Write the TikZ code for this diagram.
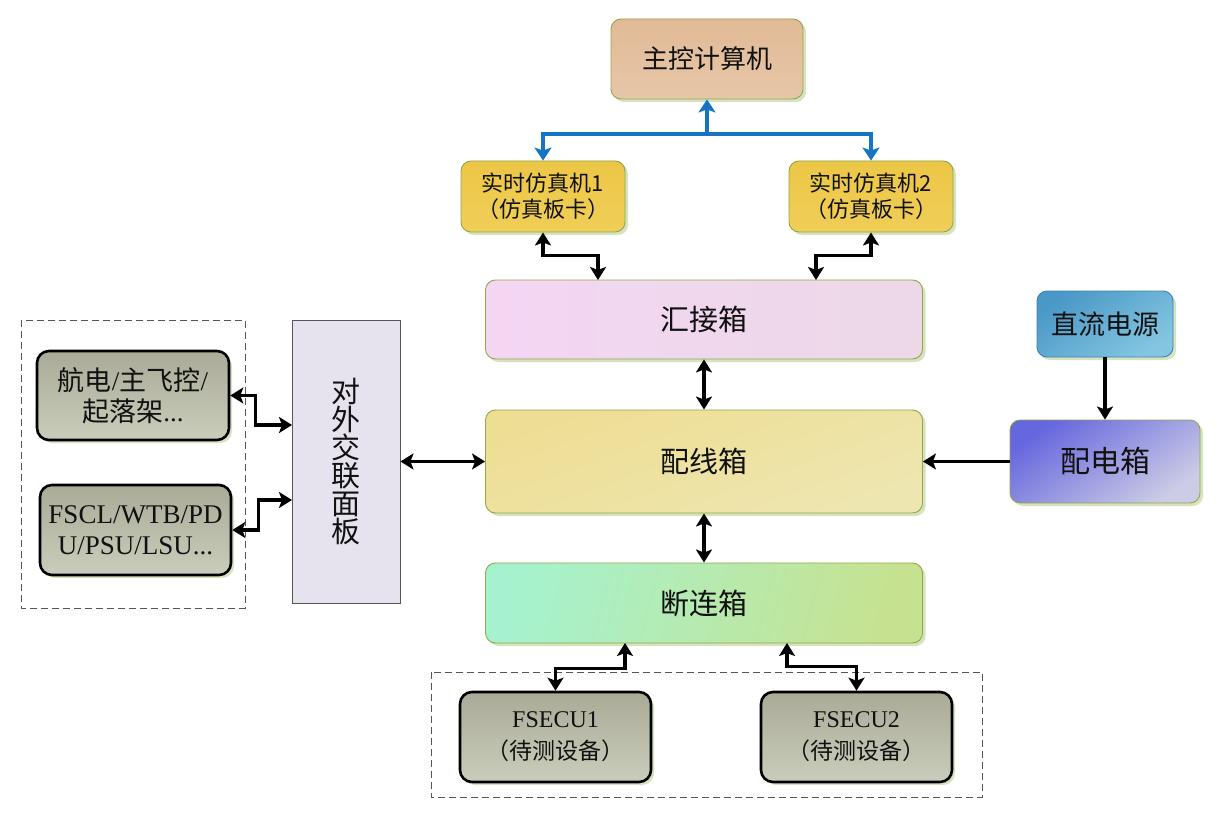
\documentclass[tikz,border=0pt]{standalone}
\usepackage{fontspec}
\setmainfont{Liberation Serif}
\newfontfamily\cjk{Noto Sans CJK SC}
\usetikzlibrary{arrows.meta,shadows}
\definecolor{bordergreen}{HTML}{8FA84A}
\definecolor{shadowgreen}{HTML}{D7E3BF}
\definecolor{txt}{HTML}{111111}
\definecolor{linkblue}{HTML}{1575C4}
\definecolor{dashgray}{HTML}{555555}
\definecolor{graytop}{HTML}{A9AB97}
\definecolor{graybot}{HTML}{CBCDBC}
\definecolor{mainT}{HTML}{E2BA96}
\definecolor{mainB}{HTML}{E6C6A8}
\definecolor{simT}{HTML}{ECC646}
\definecolor{simB}{HTML}{F0CE58}
\definecolor{hjL}{HTML}{F4D6F4}
\definecolor{hjR}{HTML}{ECD8E6}
\definecolor{pxT}{HTML}{EEDE94}
\definecolor{pxB}{HTML}{EEE6B0}
\definecolor{dlL}{HTML}{A6F2CE}
\definecolor{dlR}{HTML}{C6E290}
\definecolor{dcD}{HTML}{3A82B4}
\definecolor{dcT}{HTML}{4A98C6}
\definecolor{dcB}{HTML}{84C6E2}
\definecolor{pdT}{HTML}{6666DE}
\definecolor{pdB}{HTML}{CCCCE6}
\definecolor{panelD}{HTML}{555555}
\definecolor{panelF}{HTML}{E6E3EF}
\tikzset{
  base/.style={rounded corners=10pt, draw=bordergreen, line width=0.9pt, inner sep=0pt, align=center, text=txt,
    drop shadow={shadow xshift=3pt, shadow yshift=-3pt, fill=shadowgreen, opacity=1}},
  graybox/.style={rounded corners=12pt, draw=black, line width=2.6pt, inner sep=0pt, align=center, text=txt,
    top color=graytop, bottom color=graybot,
    drop shadow={shadow xshift=3pt, shadow yshift=-3pt, fill=shadowgreen, opacity=1}},
  link/.style={line width=3.2pt, black, {Stealth[length=13pt,width=16pt,inset=3pt]}-{Stealth[length=13pt,width=16pt,inset=3pt]}},
  linkone/.style={line width=3.2pt, black, -{Stealth[length=13pt,width=16pt,inset=3pt]}},
  bluelink/.style={line width=3.6pt, linkblue, -{Stealth[length=13pt,width=17pt,inset=3pt]}},
  dashbox/.style={draw=dashgray, line width=0.9pt, dash pattern=on 7pt off 4pt},
}
\begin{document}
\begin{tikzpicture}[x=1pt,y=-1pt]
\useasboundingbox[fill=white] (0,0) rectangle (1223,813);

% dashed groups
\draw[dashbox] (21,320) rectangle (245,608);
\draw[dashbox] (431,672) rectangle (982,797);

% main computer
\node[base, minimum width=192pt, minimum height=80pt, top color=mainT, bottom color=mainB, font=\cjk\fontsize{26}{30}\selectfont] (main) at (707,59) {主控计算机};

% simulators
\node[base, minimum width=164pt, minimum height=71pt, top color=simT, bottom color=simB, font=\cjk\fontsize{22}{26}\selectfont] (simA) at (543,196.5) {实时仿真机1\\（仿真板卡）};
\node[base, minimum width=164pt, minimum height=71pt, top color=simT, bottom color=simB, font=\cjk\fontsize{22}{26}\selectfont] (simB) at (871,196.5) {实时仿真机2\\（仿真板卡）};

% boxes in column
\node[base, minimum width=437pt, minimum height=79pt, left color=hjL, right color=hjR, font=\cjk\fontsize{29}{32}\selectfont] (hj) at (704,319.5) {汇接箱};
\node[base, minimum width=437pt, minimum height=103pt, top color=pxT, bottom color=pxB, shading angle=20, font=\cjk\fontsize{29}{32}\selectfont] (px) at (704,461.5) {配线箱};
\node[base, minimum width=437pt, minimum height=80pt, left color=dlL, right color=dlR, shading angle=75, font=\cjk\fontsize{29}{32}\selectfont] (dl) at (704,603) {断连箱};

% power
\node[base, draw=dcD, minimum width=136pt, minimum height=66pt, top color=dcT, bottom color=dcB, shading angle=35, font=\cjk\fontsize{27}{30}\selectfont] (dc) at (1105,324) {直流电源};
\node[base, minimum width=190pt, minimum height=83pt, top color=pdT, bottom color=pdB, shading angle=35, font=\cjk\fontsize{30}{32}\selectfont] (pd) at (1105,461.5) {配电箱};

% interface panel
\node[draw=panelD, line width=0.9pt, fill=panelF, minimum width=108pt, minimum height=283pt, inner sep=0pt, align=center, text=txt, font=\cjk\fontsize{29}{28}\selectfont] (panel) at (346,461.5) {对\\外\\交\\联\\面\\板};

% left boxes
\node[graybox, minimum width=192pt, minimum height=89pt, font=\fontsize{27}{31}\selectfont] (avi) at (133,395.5) {{\cjk 航电}/{\cjk 主飞控}/\\{\cjk 起落架}...};
\node[graybox, minimum width=191pt, minimum height=90pt, font=\fontsize{27}{31}\selectfont] (fscl) at (135.5,530) {FSCL/WTB/PD\\U/PSU/LSU...};

% FSECU
\node[graybox, minimum width=191pt, minimum height=90pt, font=\fontsize{24}{32}\selectfont] (ecuA) at (555.5,737) {FSECU1\\{\cjk\fontsize{23}{32}\selectfont （待测设备）}};
\node[graybox, minimum width=191pt, minimum height=90pt, font=\fontsize{24}{32}\selectfont] (ecuB) at (856.5,737) {FSECU2\\{\cjk\fontsize{23}{32}\selectfont （待测设备）}};

% blue links
\coordinate (bj) at (707,134);
\draw[bluelink] (bj) -- (main.south);
\draw[bluelink] (bj) -| (simA.north);
\draw[bluelink] (bj) -| (simB.north);

% sim to hj
\coordinate (hjA) at (598,280);
\coordinate (hjB) at (816,280);
\draw[link] (simA.south) -- ++(0,23) -| (hjA);
\draw[link] (simB.south) -- ++(0,23) -| (hjB);

% vertical links
\draw[link] (hj.south) -- (px.north);
\draw[link] (px.south) -- (dl.north);

% power links
\draw[linkone] (dc.south) -- (pd.north);
\draw[linkone] (pd.west) -- (px.east);

% panel link
\draw[link] (panel.east) -- (px.west);

% left links
\coordinate (pA) at (292,425);
\coordinate (pB) at (292,500);
\draw[link] (avi.east) -- ++(25,0) |- (pA);
\draw[link] (fscl.east) -- ++(26,0) |- (pB);

% FSECU links
\coordinate (dA) at (625,643);
\coordinate (dB) at (787,643);
\draw[link] (ecuA.north) -- ++(0,-22) -| (dA);
\draw[link] (ecuB.north) -- ++(0,-24) -| (dB);
\end{tikzpicture}
\end{document}
